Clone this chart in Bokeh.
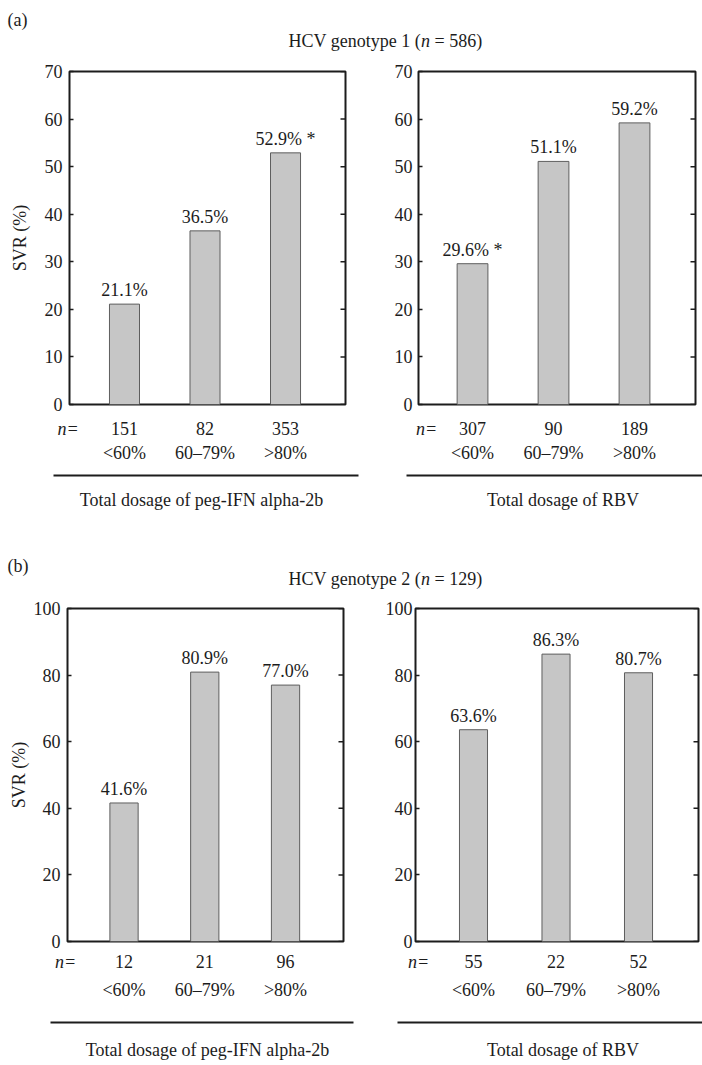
import math
from bokeh.plotting import figure
from bokeh.models import Range1d, FixedTicker, LinearAxis, Label, LabelSet, ColumnDataSource
from bokeh.layouts import column, row
from bokeh.embed import file_html
from bokeh.resources import INLINE
from bokeh.core.properties import value

# ---------------- data ----------------
categories = ["<60%", "60\u201379%", ">80%"]
bar_pos = [1, 2, 3]

g1_peg_svr = [21.1, 36.5, 52.9]
g1_peg_n = [151, 82, 353]
g1_peg_sig = ["", "", " *"]

g1_rbv_svr = [29.6, 51.1, 59.2]
g1_rbv_n = [307, 90, 189]
g1_rbv_sig = [" *", "", ""]

g2_peg_svr = [41.6, 80.9, 77.0]
g2_peg_n = [12, 21, 96]
g2_peg_sig = ["", "", ""]

g2_rbv_svr = [63.6, 86.3, 80.7]
g2_rbv_n = [55, 22, 52]
g2_rbv_sig = ["", "", ""]

g1_ticks = [0, 10, 20, 30, 40, 50, 60, 70]
g2_ticks = [0, 20, 40, 60, 80, 100]

x_titles = ["Total dosage of peg-IFN alpha-2b", "Total dosage of RBV"]
panel_tags = ["(a)", "(b)"]
header_pre = ["HCV genotype 1 (", "HCV genotype 2 ("]
header_n = "n"
header_post = ["= 586)", "= 129)"]
y_title = "SVR (%)"
n_prefix = "n="

# ---------------- style ----------------
FONT = "Liberation Serif"
INK = "#1c1c1c"
FS = "18px"
BAR_FILL = "#c6c6c6"
BAR_LINE = "#5e5e5e"


def panel(svr, sig, ticks, xr, W, bl, br, bt, bb, bw, ylab, tick_standoff, ylab_standoff):
    H = bt + 333 + bb
    ymax = ticks[-1]
    p = figure(width=W, height=H, x_range=Range1d(*xr), y_range=Range1d(0, ymax),
               x_axis_type=None, y_axis_type=None, output_backend="svg",
               toolbar_location=None, min_border_left=bl, min_border_right=br,
               min_border_top=bt, min_border_bottom=bb,
               outline_line_color=INK, outline_line_width=2,
               background_fill_color="white", border_fill_color="white")
    la = LinearAxis(ticker=FixedTicker(ticks=ticks), axis_line_color=None,
                    major_tick_in=4, major_tick_out=0, minor_tick_line_color=None,
                    major_tick_line_color=INK, major_tick_line_width=1.5,
                    major_label_standoff=tick_standoff, major_label_text_font=FONT,
                    major_label_text_font_size=FS, major_label_text_color=INK)
    if ylab:
        la.axis_label = y_title
        la.axis_label_text_font = FONT
        la.axis_label_text_font_size = FS
        la.axis_label_text_font_style = "normal"
        la.axis_label_text_color = INK
        la.axis_label_standoff = ylab_standoff
    p.add_layout(la, "left")

    # inward ticks on the right-hand frame edge (half of each dash is clipped)
    p.scatter(x=[xr[1]] * len(ticks), y=ticks, marker="dash", size=10,
              line_color=INK, line_width=1.5)

    src = ColumnDataSource(dict(
        x=bar_pos, top=svr,
        lab=[f"{v:.1f}%{s}" for v, s in zip(svr, sig)]))
    p.vbar(x="x", top="top", width=bw, source=src, fill_color=BAR_FILL,
           line_color=BAR_LINE, line_width=1)
    p.add_layout(LabelSet(x="x", y="top", text="lab", source=src, y_offset=4,
                          text_baseline="bottom", text_align="center",
                          text_font=value(FONT), text_font_size=value(FS),
                          text_color=INK))
    return p


def footer(ns, xr, W, H, bl, br, ys, nx_off, title_text, title_off, rule_ext):
    fw = W - bl - br
    pxx = (xr[1] - xr[0]) / fw
    fxr = (xr[0] - bl * pxx, xr[1] + br * pxx)
    f = figure(width=W, height=H, x_range=Range1d(*fxr), y_range=Range1d(H, 0),
               x_axis_type=None, y_axis_type=None, min_border=0,
               outline_line_color=None, toolbar_location=None, output_backend="svg",
               background_fill_color="white", border_fill_color="white")
    src = ColumnDataSource(dict(x=bar_pos, n=[str(v) for v in ns], cat=categories))
    tc = dict(text_font=value(FONT), text_font_size=value(FS), text_color=INK,
              text_align="center", text_baseline="middle")
    f.text(x="x", y=ys[0], text="n", source=src, **tc)
    f.text(x="x", y=ys[1], text="cat", source=src, **tc)
    f.text(x=[xr[0]], y=[ys[0]], text=[n_prefix], x_offset=nx_off,
           text_font_style="italic", **tc)
    f.segment(x0=[xr[0] - rule_ext[0] * pxx], x1=[xr[1] + rule_ext[1] * pxx],
              y0=[ys[2]], y1=[ys[2]], line_color=INK, line_width=2)
    f.text(x=[(xr[0] + xr[1]) / 2], y=[ys[3]], text=[title_text], x_offset=title_off, **tc)
    return f


def header(tag, pre, post, H, tag_y, title_y, title_x):
    h = figure(width=702, height=H, x_range=Range1d(0, 702), y_range=Range1d(H, 0),
               x_axis_type=None, y_axis_type=None, min_border=0,
               outline_line_color=None, toolbar_location=None, output_backend="svg",
               background_fill_color="white", border_fill_color="white")
    lc = dict(text_font=FONT, text_font_size=FS, text_color=INK, text_baseline="middle",
              text_align="left")
    h.add_layout(Label(x=7, y=tag_y, text=tag, **lc))
    h.add_layout(Label(x=title_x, y=title_y, text=pre, **lc))
    h.add_layout(Label(x=title_x + 132.5, y=title_y, text=header_n,
                       text_font_style="italic", **lc))
    h.add_layout(Label(x=title_x + 146, y=title_y, text=post, **lc))
    return h


# ranges chosen so the bars sit where they sit in the figure
xr_a1 = (0.317, 3.745)
xr_a2 = (0.333, 3.753)
xr_b1 = (0.300, 3.718)
xr_b2 = (0.297, 3.727)

ha = header(panel_tags[0], header_pre[0], header_post[0], 58, 19, 40, 288)
hb = header(panel_tags[1], header_pre[1], header_post[1], 50, 17, 30, 288)

pa1 = panel(g1_peg_svr, g1_peg_sig, g1_ticks, xr_a1, 380, 69, 35, 13, 10, 0.373, True, 7, 12)
pa2 = panel(g1_rbv_svr, g1_rbv_sig, g1_ticks, xr_a2, 322, 38, 7, 13, 10, 0.38, False, 6, 0)
pb1 = panel(g2_peg_svr, g2_peg_sig, g2_ticks, xr_b1, 380, 67, 37, 10, 10, 0.35, True, 7, 2)
pb2 = panel(g2_rbv_svr, g2_rbv_sig, g2_ticks, xr_b2, 322, 35, 4, 10, 10, 0.34, False, 3, 0)

fa1 = footer(g1_peg_n, xr_a1, 380, 134, 69, 35, (14, 38, 61, 85), -1.5, x_titles[0], -6, (16, 13))
fa2 = footer(g1_rbv_n, xr_a2, 322, 134, 38, 7, (14, 38, 61, 85), 8, x_titles[1], 6, (12, 10))
fb1 = footer(g2_peg_n, xr_b1, 380, 114, 67, 37, (10, 38, 71, 98), -2, x_titles[0], 2, (17, 10))
fb2 = footer(g2_rbv_n, xr_b2, 322, 114, 35, 4, (10, 38, 71, 98), 3, x_titles[1], 6, (18, 10))

layout = column(ha, row(pa1, pa2), row(fa1, fa2), hb, row(pb1, pb2), row(fb1, fb2))

open("out.html", "w").write(file_html(layout, INLINE))
